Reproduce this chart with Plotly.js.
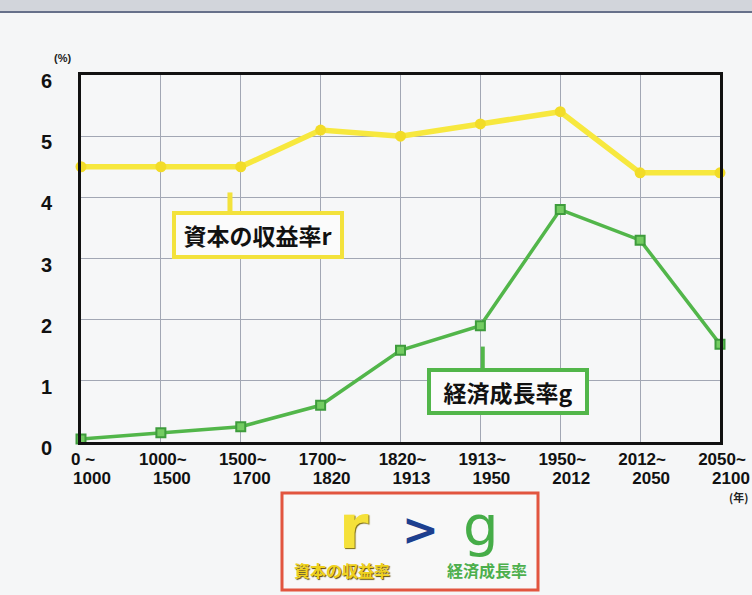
<!DOCTYPE html>
<html>
<head>
<meta charset="utf-8">
<script src="https://cdn.plot.ly/plotly-3.0.1.min.js"></script>
<style>
  html, body { margin: 0; padding: 0; background: #f5f6f7; }
  #chart { width: 752px; height: 595px; }
</style>
</head>
<body>
<div id="chart"></div>
<script>
// Periods on the horizontal axis (each label is set on two lines)
const periods = ['0~1000', '1000~1500', '1500~1700', '1700~1820', '1820~1913',
                 '1913~1950', '1950~2012', '2012~2050', '2050~2100'];
const periodStart = ['0 ~', '1000~', '1500~', '1700~', '1820~', '1913~', '1950~', '2012~', '2050~'];
const periodEnd = ['1000', '1500', '1700', '1820', '1913', '1950', '2012', '2050', '2100'];

// Return on capital r (%)
const returnOnCapital = [4.5, 4.5, 4.5, 5.1, 5.0, 5.2, 5.4, 4.4, 4.4];
// Economic growth rate g (%)
const growthRate = [0.05, 0.15, 0.25, 0.6, 1.5, 1.9, 3.8, 3.3, 1.6];

const yTicks = [0, 1, 2, 3, 4, 5, 6];

const idx = periods.map((_, i) => i);

const jpFont = '"Noto Sans CJK JP", "Noto Sans", sans-serif';
const boldFont = '"Liberation Sans", Arial, sans-serif';

const traces = [
  {
    x: idx, y: returnOnCapital, type: 'scatter', mode: 'lines+markers',
    line: { color: '#f7e83e', width: 5.5 },
    marker: { symbol: 'circle', size: 11, color: '#f2dc28' },
    cliponaxis: false, hoverinfo: 'skip', showlegend: false
  },
  {
    x: idx, y: growthRate, type: 'scatter', mode: 'lines+markers',
    line: { color: '#52b64a', width: 3.5 },
    marker: { symbol: 'square', size: 9, color: '#74cc62', line: { color: '#3e9c3c', width: 2 } },
    cliponaxis: false, hoverinfo: 'skip', showlegend: false
  },
  // carries the second line of the period labels
  {
    x: idx, y: growthRate, xaxis: 'x2', type: 'scatter', mode: 'none',
    hoverinfo: 'skip', showlegend: false
  }
];

const bottomFont = { family: boldFont, size: 17, color: '#111', weight: 'bold' };

// centre-anchored annotation helper
function note(x, y, text, font, extra) {
  return Object.assign({ xref: 'paper', yref: 'paper', x: x, y: y, text: text,
    showarrow: false, xanchor: 'center', yanchor: 'middle', font: font }, extra || {});
}
const px = v => (v - 81) / 639;
const py = v => (442 - v) / 367;

const layout = {
  width: 752, height: 595,
  margin: { l: 81, r: 32, t: 75, b: 153 },
  paper_bgcolor: '#f5f6f7',
  plot_bgcolor: '#f6f7f8',
  showlegend: false,
  xaxis: {
    range: [0, 8],
    tickmode: 'array', tickvals: idx, ticktext: periodStart,
    ticks: '', ticklabelstandoff: 0, ticklabelshift: 2,
    tickfont: bottomFont,
    showgrid: true, gridcolor: '#a2a7b4', gridwidth: 1,
    showline: true, linecolor: '#111', linewidth: 3, mirror: true,
    zeroline: false, fixedrange: true
  },
  xaxis2: {
    overlaying: 'x', anchor: 'y', side: 'bottom',
    range: [0, 8],
    tickmode: 'array', tickvals: idx, ticktext: periodEnd,
    ticks: '', ticklabelstandoff: 24, ticklabelshift: 11,
    tickfont: bottomFont,
    showgrid: false, showline: false, zeroline: false, fixedrange: true
  },
  yaxis: {
    range: [0, 6],
    tickmode: 'array', tickvals: yTicks, ticktext: yTicks.map(String),
    ticks: '', ticklabelstandoff: 22, ticklabelshift: 6,
    tickfont: { family: boldFont, size: 20, color: '#111', weight: 'bold' },
    showgrid: true, gridcolor: '#a2a7b4', gridwidth: 1,
    showline: true, linecolor: '#111', linewidth: 3, mirror: true,
    zeroline: false, fixedrange: true
  },
  shapes: [
    // worn page edge along the top
    { type: 'rect', xref: 'paper', yref: 'paper', x0: -0.14, x1: 1.06, y0: py(12), y1: py(-2),
      fillcolor: '#d2d5db', line: { width: 0 }, layer: 'below' },
    { type: 'line', xref: 'paper', yref: 'paper', x0: -0.14, x1: 1.06, y0: py(12), y1: py(12),
      line: { color: '#66708a', width: 2 } },
    // pointer stems for the series labels
    { type: 'line', xref: 'x', yref: 'y', x0: 1.865, x1: 1.865, y0: 4.08, y1: 3.72,
      line: { color: '#f3e23c', width: 5 } },
    { type: 'line', xref: 'x', yref: 'y', x0: 5.03, x1: 5.03, y0: 1.56, y1: 1.16,
      line: { color: '#52b64a', width: 4 } },
    // r > g summary frame
    { type: 'rect', xref: 'paper', yref: 'paper', x0: px(282), x1: px(538), y0: py(493), y1: py(590),
      fillcolor: '#f8f8f8', line: { color: '#e2553f', width: 3 } }
  ],
  annotations: [
    note(px(62), py(58), '(%)', { family: boldFont, size: 11, color: '#222', weight: 'bold' }),
    note(px(738), py(497), '(年)', { family: jpFont, size: 11, color: '#222', weight: 'bold' }),
    { xref: 'x', yref: 'y', x: 2.215, y: 3.38, text: '資本の収益率r', showarrow: false,
      xanchor: 'center', yanchor: 'middle',
      font: { family: jpFont, size: 23, color: '#111', weight: 'bold' },
      bgcolor: '#fbfbfb', bordercolor: '#f3e23c', borderwidth: 4, borderpad: 1,
      width: 162, height: 38 },
    { xref: 'x', yref: 'y', x: 5.34, y: 0.82, text: '経済成長率g', showarrow: false,
      xanchor: 'center', yanchor: 'middle',
      font: { family: jpFont, size: 23, color: '#111', weight: 'bold' },
      bgcolor: '#fbfbfb', bordercolor: '#52b64a', borderwidth: 4, borderpad: 1,
      width: 152, height: 37 },
    // r > g summary
    note(px(354), py(527), 'r',
      { family: '"DejaVu Sans", sans-serif', size: 60, color: '#f5e13a', weight: 'bold',
        shadow: '1px 1px 1px #7a6a10' }),
    note(px(420), py(529), '>',
      { family: '"DejaVu Sans", sans-serif', size: 44, color: '#1d3f8f', weight: 'bold' }),
    note(px(481), py(525), 'g',
      { family: '"DejaVu Sans", sans-serif', size: 56, color: '#46ad48' }),
    note(px(342), py(570), '資本の収益率',
      { family: jpFont, size: 16, color: '#f0d21e', weight: 'bold', shadow: '1px 1px 1px #5a4a08' }),
    note(px(487), py(570), '経済成長率',
      { family: jpFont, size: 16, color: '#4caf4c', weight: 'bold' })
  ]
};

Plotly.newPlot('chart', traces, layout, { displayModeBar: false, staticPlot: true });
</script>
</body>
</html>
